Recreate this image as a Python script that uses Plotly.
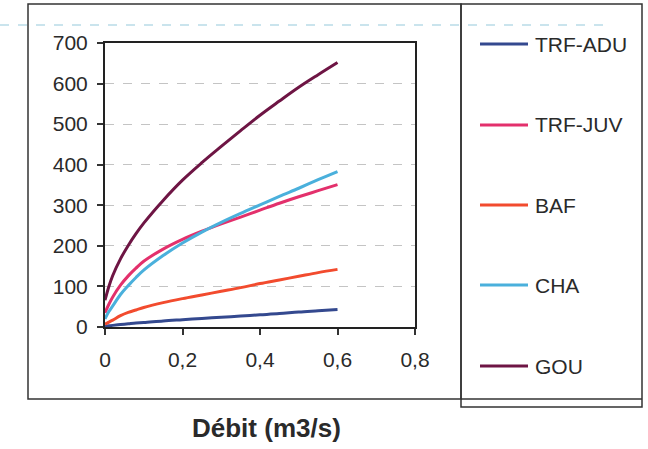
import plotly.graph_objects as go

# Débit (m3/s)
debit = [0, 0.01, 0.02, 0.04, 0.06, 0.08, 0.1, 0.15, 0.2, 0.25, 0.3, 0.35, 0.4, 0.45, 0.5, 0.55, 0.6]

trf_adu = [2, 3, 4, 6, 8, 10, 11, 15, 18, 21, 24, 27, 30, 33, 37, 40, 43]
trf_juv = [35, 56, 74, 103, 126, 145, 162, 192, 216, 236, 254, 271, 288, 305, 321, 336, 351]
baf = [7, 12, 17, 28, 36, 42, 48, 60, 70, 79, 88, 97, 107, 116, 125, 134, 142]
cha = [20, 38, 52, 80, 102, 122, 140, 176, 207, 234, 258, 280, 301, 322, 342, 363, 383]
gou = [66, 100, 127, 168, 201, 230, 256, 312, 362, 405, 445, 484, 522, 557, 591, 622, 652]

series_names = ["TRF-ADU", "TRF-JUV", "BAF", "CHA", "GOU"]
series_values = [trf_adu, trf_juv, baf, cha, gou]
series_colors = ["#34498f", "#e3306c", "#f24b2e", "#4ab0dc", "#6e1544"]

x_ticks = [0, 0.2, 0.4, 0.6, 0.8]
y_ticks = [0, 100, 200, 300, 400, 500, 600, 700]

FONT = "Liberation Sans, Arial, sans-serif"
TEXT = "#2a2a2a"

fig = go.Figure()
for name, vals, col in zip(series_names, series_values, series_colors):
    fig.add_trace(go.Scatter(
        x=debit, y=vals, name=name, mode="lines",
        line=dict(color=col, width=3, shape="spline", smoothing=1.0),
        showlegend=False,
    ))

# plot area: x 105..415 px, y 43..327 px
L, R, T, B = 105, 415, 43, 327
W, H = 648, 449


def px(xp):
    return (xp - L) / (R - L)


def py(yp):
    return (B - yp) / (B - T)


frame = dict(color="#333333", width=1.5)
shapes = [
    # faint dashed rule across the page
    dict(type="line", xref="paper", yref="paper", x0=px(0), x1=px(607), y0=py(25), y1=py(25),
         line=dict(color="#b9dbe8", width=1.5, dash="dash"), layer="below"),
    # outer chart frame
    dict(type="rect", xref="paper", yref="paper", x0=px(28), x1=px(461), y0=py(399), y1=py(4),
         line=frame, layer="below"),
    # legend frame
    dict(type="rect", xref="paper", yref="paper", x0=px(461), x1=px(642), y0=py(407), y1=py(4),
         line=frame, layer="below"),
    dict(type="line", xref="paper", yref="paper", x0=px(461), x1=px(642), y0=py(399), y1=py(399),
         line=frame, layer="below"),
]

annotations = [dict(
    text="<b>Débit (m3/s)</b>", xref="paper", yref="paper",
    x=px(266), y=py(428), xanchor="center", yanchor="middle",
    showarrow=False, font=dict(size=26, color=TEXT, family=FONT),
)]

# legend column: a line sample and a label per series
legend_rows = [44, 125, 205, 285, 366]
for name, col, yrow in zip(series_names, series_colors, legend_rows):
    shapes.append(dict(type="line", xref="paper", yref="paper",
                       x0=px(480), x1=px(528), y0=py(yrow), y1=py(yrow),
                       line=dict(color=col, width=3)))
    annotations.append(dict(text=name, xref="paper", yref="paper",
                            x=px(533), y=py(yrow), xanchor="left", yanchor="middle",
                            showarrow=False, font=dict(size=21, color=TEXT, family=FONT)))

fig.update_layout(
    width=W, height=H,
    margin=dict(l=L, r=W - R, t=T, b=H - B, pad=0),
    paper_bgcolor="white", plot_bgcolor="white",
    separators=", ",
    font=dict(family=FONT, size=21, color=TEXT),
    shapes=shapes,
    annotations=annotations,
    showlegend=False,
)

fig.update_xaxes(
    range=[0, 0.8], tickvals=x_ticks, tickformat=".1~f",
    showgrid=False, zeroline=False,
    showline=True, mirror=True, linecolor="#222", linewidth=2,
    ticks="outside", ticklen=6, tickwidth=1.5, tickcolor="#333",
    tickfont=dict(size=21), ticklabelstandoff=7,
)
fig.update_yaxes(
    range=[0, 700], tickvals=y_ticks,
    showgrid=True, gridcolor="#c4c4c4", griddash="dash", gridwidth=1,
    zeroline=False,
    showline=True, mirror=True, linecolor="#222", linewidth=2,
    ticks="outside", ticklen=6, tickwidth=1.5, tickcolor="#333",
    tickfont=dict(size=21), ticklabelstandoff=5,
)

fig.write_html("out.html")
